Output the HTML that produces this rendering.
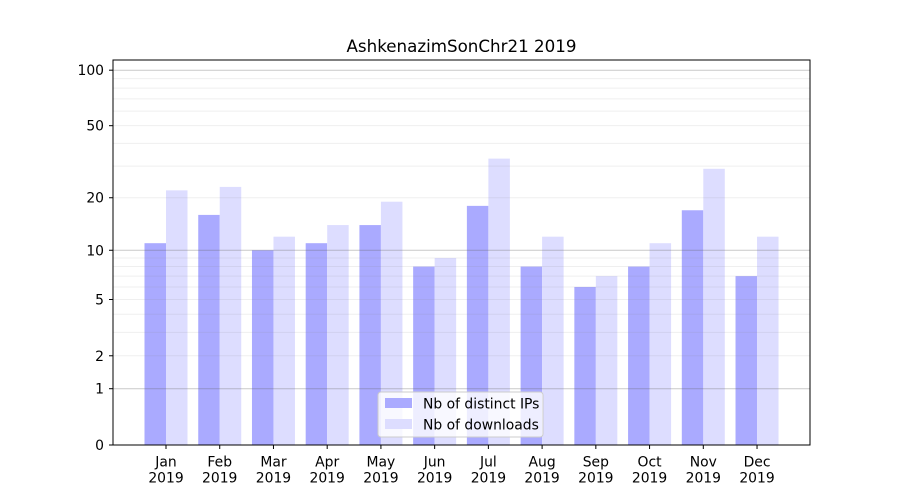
<!DOCTYPE html>
<html><head><meta charset="utf-8"><style>body{margin:0;background:#fff}svg{display:block;font-family:"DejaVu Sans","Liberation Sans",sans-serif}</style></head>
<body>
<svg id="c" width="900" height="500" xmlns="http://www.w3.org/2000/svg">
<rect width="900" height="500" fill="#fff"/>
<text x="461.5" y="52" font-size="16.7" text-anchor="middle" fill="#000">AshkenazimSonChr21 2019</text>
<g id="bars"></g>
<g id="grid"></g>
<rect x="113" y="60" width="697" height="385" fill="none" stroke="#000" stroke-width="1"/>
<g id="ticks" font-size="13.9" fill="#000"></g>
<g>
<rect x="378" y="392" width="165" height="45" rx="3" fill="#fff" fill-opacity="0.8" stroke="#ccc"/>
<rect x="385" y="398" width="27" height="10" fill="#aaaaff"/>
<text x="423" y="408.5" font-size="13.9">Nb of distinct IPs</text>
<rect x="385" y="419" width="27" height="10" fill="#ddddff"/>
<text x="423" y="429.5" font-size="13.9">Nb of downloads</text>
</g>
</svg>
<script>
const Y=v=>445-187*Math.log10(1+v);
const ns="http://www.w3.org/2000/svg";
function el(p,t,a,txt){const e=document.createElementNS(ns,t);for(const k in a)e.setAttribute(k,a[k]);if(txt!==undefined)e.textContent=txt;document.getElementById(p).appendChild(e);}
const ips=[11,16,10,11,14,8,18,8,6,8,17,7],dl=[22,23,12,14,19,9,33,12,7,11,29,12];
const m=["Jan","Feb","Mar","Apr","May","Jun","Jul","Aug","Sep","Oct","Nov","Dec"];
for(let i=0;i<12;i++){const cx=166+i*53.73;
el("bars","rect",{x:cx-21.5,y:Y(ips[i]),width:21.5,height:445-Y(ips[i]),fill:"#aaaaff"});
el("bars","rect",{x:cx,y:Y(dl[i]),width:21.5,height:445-Y(dl[i]),fill:"#ddddff"});
el("ticks","line",{x1:cx,x2:cx,y1:445,y2:449,stroke:"#000"});
el("ticks","text",{x:cx,y:466.5,"text-anchor":"middle"},m[i]);
el("ticks","text",{x:cx,y:482.5,"text-anchor":"middle"},"2019");}
for(const v of [2,3,4,5,6,7,8,9,20,30,40,50,60,70,80,90])el("grid","line",{x1:113,x2:810,y1:Y(v),y2:Y(v),stroke:"rgba(128,128,128,0.13)"});
for(const v of [1,10,100])el("grid","line",{x1:113,x2:810,y1:Y(v),y2:Y(v),stroke:"rgba(100,100,100,0.35)"});
for(const v of [0,1,2,5,10,20,50,100]){const y=Y(v);
el("ticks","line",{x1:109,x2:113,y1:y,y2:y,stroke:"#000"});
el("ticks","text",{x:104,y:y+5,"text-anchor":"end"},String(v));}
</script>
</body></html>
